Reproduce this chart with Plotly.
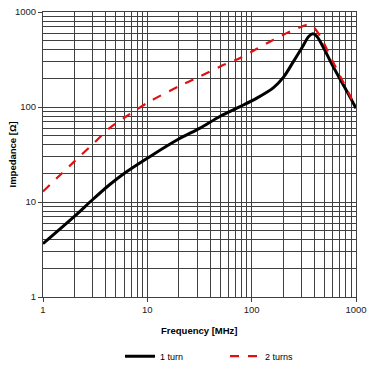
import plotly.graph_objects as go

freq_1turn = [1, 2, 2.96, 4.34, 6.27, 11.3, 20, 32, 50, 77.5, 112, 162, 202, 251, 303, 352, 387, 423, 490, 590, 708, 851, 1000]
z_1turn = [3.64, 7.05, 10.5, 15.2, 20.7, 31.5, 46, 60, 80, 101, 124, 160, 206, 300, 420, 553, 590, 553, 418, 279, 194, 135, 97]

freq_2turns = [1, 2, 2.96, 4.34, 6.27, 10.2, 20, 32, 50, 77.5, 112, 162, 234, 300, 338, 378, 455, 567, 708, 884, 1000]
z_2turns = [12.9, 26.8, 40, 60, 79.5, 112, 165, 210, 267, 328, 410, 511, 625, 700, 735, 720, 553, 341, 210, 129, 98]

x_major = [1, 10, 100, 1000]
y_major = [1, 10, 100, 1000]
minor_vals = [m * d for d in [1, 10, 100] for m in range(2, 10)]

fig = go.Figure()
fig.add_trace(go.Scatter(x=freq_1turn, y=z_1turn, mode="lines", name="1 turn",
                         line=dict(color="black", width=3, shape="spline", smoothing=0.8)))
fig.add_trace(go.Scatter(x=freq_2turns, y=z_2turns, mode="lines", name="2 turns",
                         line=dict(color="#e01010", width=2.2, dash="dash", shape="spline", smoothing=0.8)))

gridc = "#404040"
common = dict(type="log", range=[0, 3], tickmode="array", showgrid=True, gridcolor=gridc, gridwidth=1,
              minor=dict(tickmode="array", tickvals=minor_vals, showgrid=True, gridcolor=gridc, gridwidth=1, ticks=""),
              ticks="outside", ticklen=4, tickcolor=gridc, showline=True, linecolor=gridc, mirror=True,
              zeroline=False, automargin=False, tickfont=dict(size=9.5, color="#222"))
fig.update_xaxes(tickvals=x_major, ticktext=[str(v) for v in x_major], **common)
fig.update_yaxes(tickvals=y_major, ticktext=[str(v) for v in y_major], **common)

fig.add_annotation(text="<b>Frequency [MHz]</b>", xref="paper", yref="paper",
                   x=0.5, y=-0.116, xanchor="center", yanchor="middle", showarrow=False,
                   font=dict(size=9.5, color="black"))
fig.add_annotation(text="<b>Impedance [Ω]</b>", xref="paper", yref="paper",
                   x=-0.099, y=0.5, xanchor="center", yanchor="middle", showarrow=False,
                   textangle=-90, font=dict(size=9.5, color="black"))

fig.update_layout(
    width=369, height=368,
    margin=dict(l=43, r=13, t=12, b=71),
    paper_bgcolor="white", plot_bgcolor="white",
    font=dict(family="Liberation Sans, Arial, sans-serif", size=10, color="black"),
    showlegend=True,
    legend=dict(orientation="h", x=0.246, xanchor="left", yref="container", y=0.032, yanchor="middle",
                font=dict(size=9), entrywidth=60, itemwidth=30, tracegroupgap=0),
)

fig.write_html("out.html", config={"displayModeBar": False},
               post_script="document.body.style.margin='0';document.body.style.overflow='hidden';")
